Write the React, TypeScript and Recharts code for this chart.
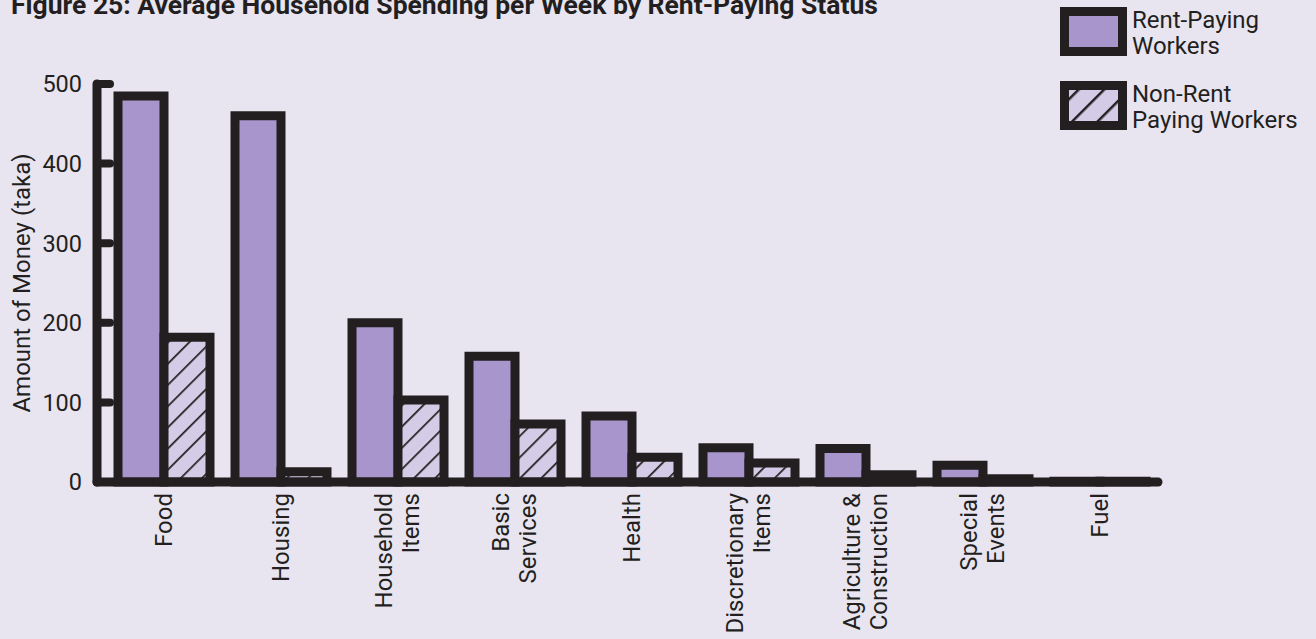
import React from "react";
import { BarChart, Bar, XAxis, YAxis } from "recharts";

const categories = [
  "Food",
  "Housing",
  "Household\nItems",
  "Basic\nServices",
  "Health",
  "Discretionary\nItems",
  "Agriculture &\nConstruction",
  "Special\nEvents",
  "Fuel",
];
const rentPaying = [485, 460, 200, 158, 83, 43, 42, 21, 1];
const nonRentPaying = [182, 13, 103, 73, 31, 24, 9, 4, 1];
const yTicks = [0, 100, 200, 300, 400, 500];
const legendLabels = [
  ["Rent-Paying", "Workers"],
  ["Non-Rent", "Paying Workers"],
];

const data = categories.map((name, i) => ({
  name,
  rent: rentPaying[i],
  nonRent: nonRentPaying[i],
}));

const INK = "#231f20";
const BG = "#e8e5f0";
const RENT = "#a795cb";
const NONRENT = "#d4cce6";
const FONT = "Roboto, sans-serif";

function YTick(props: any) {
  const { x, y, payload } = props;
  return (
    <g>
      <line x1={x} y1={y} x2={x + 13} y2={y} stroke={INK} strokeWidth={8} strokeLinecap="round" />
      <text x={x - 15} y={y} dy="0.36em" textAnchor="end" fontSize={23.5} fill={INK} fontFamily={FONT}>
        {payload.value}
      </text>
    </g>
  );
}

function XTick(props: any) {
  const { x, y, payload } = props;
  const lines = String(payload.value).split("\n");
  const first = lines.length === 1 ? 8 : -6;
  return (
    <g transform={`translate(${x},${y + 11})`}>
      <text transform="rotate(-90)" textAnchor="end" fontSize={24} fill={INK} fontFamily={FONT}>
        {lines.map((l, i) => (
          <tspan key={i} x={0} y={first + i * 27}>
            {l}
          </tspan>
        ))}
      </text>
    </g>
  );
}

function LegendBox({ hatch }: { hatch: boolean }) {
  return (
    <svg width={68} height={50} style={{ display: "block", flexShrink: 0 }}>
      <defs>
        <pattern id="legendHatch" patternUnits="userSpaceOnUse" width={18} height={18} patternTransform="rotate(45)">
          <rect width={18} height={18} fill={NONRENT} />
          <line x1={0} y1={0} x2={0} y2={18} stroke={INK} strokeWidth={5} />
        </pattern>
      </defs>
      <rect x={4.5} y={4.5} width={58} height={40} fill={hatch ? "url(#legendHatch)" : RENT} stroke={INK} strokeWidth={9} />
    </svg>
  );
}

function ChartLegend() {
  return (
    <div style={{ position: "absolute", left: 1060, top: 7, fontFamily: FONT, color: INK }}>
      {legendLabels.map((label, i) => (
        <div key={i} style={{ display: "flex", alignItems: "flex-start", marginBottom: 22 }}>
          <LegendBox hatch={i === 1} />
          <div style={{ fontSize: 24, lineHeight: "26px", marginLeft: 4, marginTop: 0 }}>
            {label.map((l, j) => (
              <div key={j}>{l}</div>
            ))}
          </div>
        </div>
      ))}
    </div>
  );
}

export default function App() {
  return (
    <div style={{ position: "absolute", left: 0, top: 0, width: 1316, height: 639, background: BG, overflow: "hidden" }}>
      <div
        style={{
          position: "absolute",
          left: 11,
          top: -11,
          fontFamily: FONT,
          fontWeight: 700,
          fontSize: 26.5,
          lineHeight: "31px",
          color: INK,
          whiteSpace: "nowrap",
        }}
      >
        Figure 25: Average Household Spending per Week by Rent-Paying Status
      </div>
      <ChartLegend />
      <div style={{ position: "absolute", left: 0, top: 0 }}>
        <BarChart
          width={1316}
          height={639}
          data={data}
          margin={{ top: 84, right: 158, bottom: 0, left: 0 }}
          barCategoryGap={13}
          barGap={0}
        >
          <defs>
            <pattern id="hatch" patternUnits="userSpaceOnUse" width={15} height={15} patternTransform="rotate(45)">
              <rect width={15} height={15} fill={NONRENT} />
              <line x1={0} y1={0} x2={0} y2={15} stroke={INK} strokeWidth={3.5} />
            </pattern>
          </defs>
          <XAxis
            dataKey="name"
            interval={0}
            height={157}
            padding={{ left: 8, right: 0 }}
            axisLine={{ stroke: INK, strokeWidth: 9, strokeLinecap: "round" }}
            tickLine={false}
            tickSize={0}
            tickMargin={0}
            tick={<XTick />}
          />
          <YAxis
            width={97}
            domain={[0, 500]}
            ticks={yTicks}
            axisLine={{ stroke: INK, strokeWidth: 9, strokeLinecap: "round" }}
            tickLine={false}
            tickSize={0}
            tickMargin={0}
            tick={<YTick />}
            label={{
              value: "Amount of Money (taka)",
              angle: -90,
              position: "insideLeft",
              offset: 21,
              style: { textAnchor: "middle", fontSize: 24, fill: INK, fontFamily: FONT },
            }}
          />
          <Bar dataKey="rent" name="Rent-Paying Workers" fill={RENT} stroke={INK} strokeWidth={9} isAnimationActive={false} />
          <Bar dataKey="nonRent" name="Non-Rent Paying Workers" fill="url(#hatch)" stroke={INK} strokeWidth={9} isAnimationActive={false} />
        </BarChart>
      </div>
    </div>
  );
}
